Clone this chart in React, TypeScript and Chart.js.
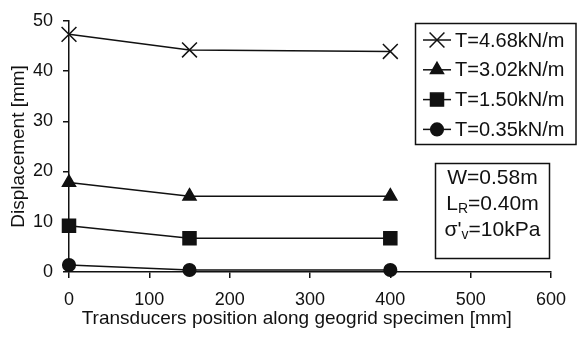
import React, { useEffect, useRef } from 'react';
import { Chart, registerables } from 'chart.js';
import { drawPoint } from 'chart.js/helpers';

Chart.register(...registerables);

// ---- data ----
const positions = [0, 150, 400];
const seriesLabels = ['T=4.68kN/m', 'T=3.02kN/m', 'T=1.50kN/m', 'T=0.35kN/m'];
const t468 = [47.3, 44.2, 43.9];
const t302 = [17.8, 15.1, 15.1];
const t150 = [9.2, 6.7, 6.7];
const t035 = [1.4, 0.4, 0.4];
const xTickValues = [0, 100, 200, 300, 400, 500, 600];
const yTickValues = [0, 10, 20, 30, 40, 50];
const xTitle = 'Transducers position along geogrid specimen [mm]';
const yTitle = 'Displacement [mm]';
const infoW = 'W=0.58m';
const infoL = ['L', 'R', '=0.40m'];
const infoS = ["σ'", 'v', '=10kPa'];

const FONT = "'Liberation Sans', Arial, Helvetica, sans-serif";
const INK = '#111';

function mk(label: string, data: number[], style: string, radius: number) {
  return {
    label,
    data: positions.map((x, i) => ({ x, y: data[i] })),
    borderColor: INK,
    backgroundColor: INK,
    borderWidth: 1.5,
    pointStyle: style,
    pointRadius: radius,
    pointBorderWidth: 1.5,
    pointBackgroundColor: INK,
    pointBorderColor: INK,
    showLine: true,
    tension: 0,
    clip: false as any,
  };
}

const legendPlugin = {
  id: 'customLegend',
  afterDraw(chart: any) {
    const ctx = chart.ctx as CanvasRenderingContext2D;
    ctx.save();
    // legend box
    ctx.strokeStyle = INK;
    ctx.lineWidth = 1.5;
    ctx.fillStyle = '#fff';
    ctx.fillRect(415.5, 23.5, 160.5, 121);
    ctx.strokeRect(415.5, 23.5, 160.5, 121);
    ctx.font = `20px ${FONT}`;
    ctx.textBaseline = 'middle';
    ctx.textAlign = 'left';
    chart.data.datasets.forEach((ds: any, i: number) => {
      const y = 40 + i * 29.8;
      ctx.strokeStyle = INK;
      ctx.lineWidth = 1.5;
      ctx.beginPath();
      ctx.moveTo(423, y);
      ctx.lineTo(451, y);
      ctx.stroke();
      ctx.fillStyle = INK;
      drawPoint(ctx, { pointStyle: ds.pointStyle, radius: ds.pointRadius, rotation: 0, borderWidth: 1.5 } as any, 437, y);
      ctx.fillStyle = INK;
      ctx.fillText(ds.label, 455, y + 1);
    });

    // info box
    ctx.fillStyle = '#fff';
    ctx.fillRect(435.5, 163.5, 114, 95);
    ctx.strokeStyle = INK;
    ctx.lineWidth = 1.5;
    ctx.strokeRect(435.5, 163.5, 114, 95);
    ctx.fillStyle = INK;
    const big = `21px ${FONT}`;
    const small = `14px ${FONT}`;
    const cx = 492.5;
    ctx.font = big;
    ctx.textAlign = 'center';
    ctx.fillText(infoW, cx, 178);
    const rich = (parts: string[], y: number) => {
      ctx.textAlign = 'left';
      ctx.font = big;
      const w0 = ctx.measureText(parts[0]).width;
      const w2 = ctx.measureText(parts[2]).width;
      ctx.font = small;
      const w1 = ctx.measureText(parts[1]).width;
      let x = cx - (w0 + w1 + w2) / 2;
      ctx.font = big;
      ctx.fillText(parts[0], x, y);
      x += w0;
      ctx.font = small;
      ctx.fillText(parts[1], x, y + 5);
      x += w1;
      ctx.font = big;
      ctx.fillText(parts[2], x, y);
    };
    rich(infoL, 204);
    rich(infoS, 230);
    ctx.restore();
  },
};

export default function App() {
  const ref = useRef<HTMLCanvasElement | null>(null);
  useEffect(() => {
    document.body.style.margin = '0';
    if (!ref.current) return;
    const chart = new Chart(ref.current, {
      type: 'scatter',
      data: {
        datasets: [
          mk(seriesLabels[0], t468, 'crossRot', 10.5),
          mk(seriesLabels[1], t302, 'triangle', 7.5),
          mk(seriesLabels[2], t150, 'rect', 9.2),
          mk(seriesLabels[3], t035, 'circle', 6.3),
        ] as any,
      },
      options: {
        responsive: false,
        animation: false,
        devicePixelRatio: 1,
        layout: { padding: { top: 16, right: 19, left: 0, bottom: 0 } },
        plugins: {
          legend: { display: false },
          tooltip: { enabled: false },
        },
        scales: {
          x: {
            type: 'linear',
            min: 0,
            max: 600,
            afterFit: (s: any) => { s.height = 65; },
            afterBuildTicks: (s: any) => { s.ticks = xTickValues.map((v) => ({ value: v })); },
            ticks: { color: INK, font: { family: FONT, size: 18 }, padding: 11, maxRotation: 0 },
            grid: { display: true, drawOnChartArea: false, drawTicks: true, tickLength: 6, color: INK, lineWidth: 1.5 },
            border: { display: true, color: INK, width: 1.5 },
            title: { display: true, text: xTitle + '     ', color: INK, font: { family: FONT, size: 19 }, padding: { top: 0, bottom: 7 } },
          },
          y: {
            type: 'linear',
            min: 0,
            max: 50,
            afterFit: (s: any) => { s.width = 69; },
            afterBuildTicks: (s: any) => { s.ticks = yTickValues.map((v) => ({ value: v })); },
            ticks: { color: INK, font: { family: FONT, size: 18 }, padding: 10 },
            grid: { display: true, drawOnChartArea: false, drawTicks: true, tickLength: 6, color: INK, lineWidth: 1.5 },
            border: { display: true, color: INK, width: 1.5 },
            title: { display: true, text: yTitle, color: INK, font: { family: FONT, size: 19 }, padding: { top: 7, bottom: 0 } },
          },
        },
      },
      plugins: [legendPlugin],
    });
    return () => chart.destroy();
  }, []);
  return (
    <div style={{ position: 'absolute', left: 0, top: 0, width: 577, height: 337, background: '#fff' }}>
      <canvas ref={ref} width={577} height={337} style={{ display: 'block' }} />
    </div>
  );
}
